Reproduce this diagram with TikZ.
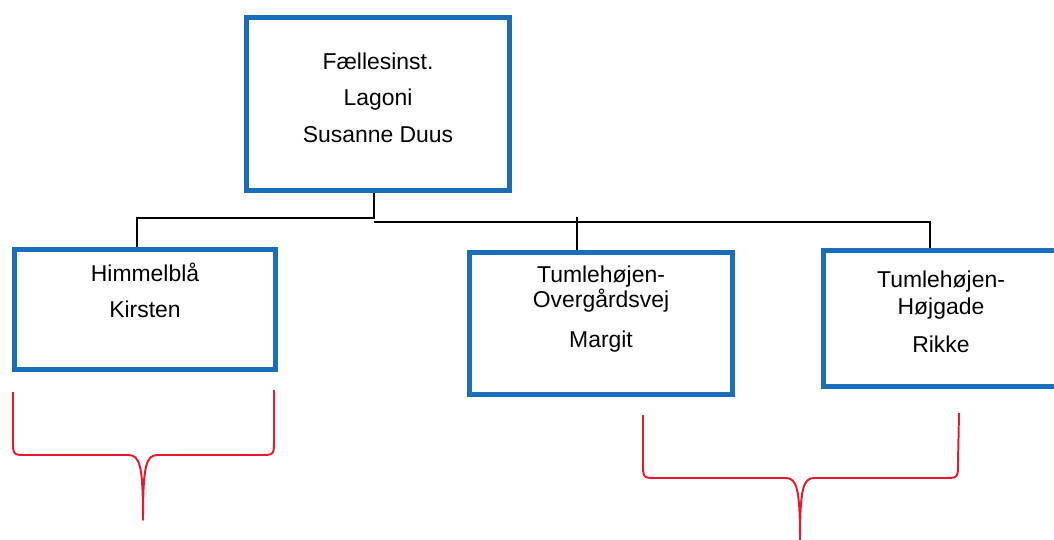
\documentclass[tikz,border=0pt]{standalone}
\usepackage{fontspec}
\setmainfont{Liberation Sans}
\usepackage{xcolor}
\usetikzlibrary{positioning}

\definecolor{boxblue}{RGB}{25,110,185}
\definecolor{bracered}{RGB}{230,25,45}

\begin{document}
\begin{tikzpicture}[
    x=0.025cm, y=-0.025cm,
    unit/.style={draw=boxblue, line width=3.4pt, inner sep=0pt},
    names/.style={align=center, inner sep=0pt, font=\fontsize{16.3}{17.8}\selectfont},
    link/.style={line width=0.9pt},
    brace/.style={draw=bracered, line width=1.4pt, line join=round}
]
    \useasboundingbox (0,0) rectangle (1054,540);

    % Boxes
    \node [unit, minimum width=6.575cm, minimum height=4.325cm] (lagoni) at (378,104) {};
    \node [unit, minimum width=6.525cm, minimum height=3.0cm] (himmel) at (145,309.5) {};
    \node [unit, minimum width=6.575cm, minimum height=3.55cm] (overgaard) at (601,323.5) {};
    \node [unit, minimum width=5.875cm, minimum height=3.4cm] (hojgade) at (941,318.5) {};

    % Texts (anchored on the last line)
    \node [names, anchor=base] (lagoniTxt) at (378,142) {Fællesinst.\\[0.275cm]Lagoni\\[0.275cm]Susanne Duus};
    \node [names, anchor=base] (himmelTxt) at (145,317) {Himmelblå\\[0.25cm]Kirsten};
    \node [names, anchor=base] (overgaardTxt) at (601,347) {Tumlehøjen-\\Overgårdsvej\\[0.35cm]Margit};
    \node [names, anchor=base] (hojgadeTxt) at (941,352) {Tumlehøjen-\\[0.05cm]Højgade\\[0.3cm]Rikke};

    % Connectors
    \coordinate (fork) at (374,218);
    \coordinate (forkR) at (374,222);
    \draw [link] (fork |- lagoni.south) -- (fork) -| ([xshift=-0.2cm]himmel.north);
    \draw [link] (forkR) -| ([xshift=-0.275cm]hojgade.north);
    \draw [link] ([xshift=-0.6cm]overgaard.north) -- ([xshift=-0.6cm]overgaard.north |- 0,217);

    % Braces
    \draw [brace] (13,392) -- (13,440) .. controls (13,455) .. (27,455) -- (128,455)
        .. controls (140,455) and (143,465) .. (143,520)
        .. controls (143,465) and (146,455) .. (158,455) -- (260,455)
        .. controls (274,455) .. (274,440) -- (274,390);
    \draw [brace] (643,415) -- (643,463) .. controls (643,478) .. (657,478) -- (786,478)
        .. controls (797,478) and (800,490) .. (800,540)
        .. controls (800,490) and (803,478) .. (814,478) -- (944,478)
        .. controls (958,478) .. (958,463) -- (959,413);
\end{tikzpicture}
\end{document}
